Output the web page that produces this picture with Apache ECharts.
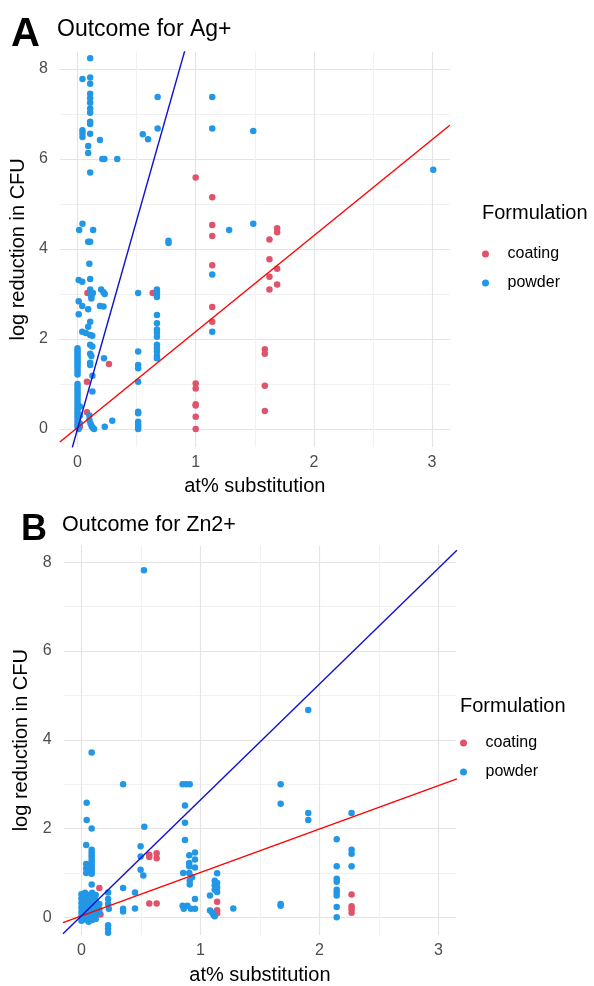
<!DOCTYPE html>
<html>
<head>
<meta charset="utf-8">
<script src="https://cdn.jsdelivr.net/npm/echarts@6/dist/echarts.min.js"></script>
<style>
  html, body { margin: 0; padding: 0; background: #fff; }
  #chart { width: 594px; height: 986px; }
</style>
</head>
<body>
<div id="chart"></div>
<script>
// panel A: Ag+
var agCoating = [
  [1.0, 5.59], [1.14, 5.15], [1.14, 4.53], [1.14, 4.29], [1.14, 3.64], [1.14, 2.71], [1.14, 2.38],
  [1.624, 4.21], [1.689, 4.46], [1.689, 4.37], [1.624, 3.77], [1.689, 3.56], [1.624, 3.38], [1.689, 3.21], [1.624, 3.10],
  [1.585, 1.77], [1.585, 1.67], [1.585, 0.96], [1.585, 0.40],
  [1.0, 1.01], [1.0, 0.90], [1.0, 0.55], [1.0, 0.52], [1.0, 0.27], [1.0, 0.0],
  [0.084, 3.02], [0.266, 1.44], [0.08, 1.05], [0.08, 0.37], [0.636, 3.02], [0.02, 0.05]
];
var agPowder = [
  [0.107, 8.24], [0.042, 7.78], [0.107, 7.81], [0.107, 7.67], [0.107, 7.45], [0.107, 7.35], [0.107, 7.25],
  [0.107, 7.12], [0.107, 7.03], [0.107, 6.83], [0.107, 6.78], [0.042, 6.64], [0.042, 6.57], [0.042, 6.49],
  [0.107, 6.56], [0.19, 6.42], [0.09, 6.29], [0.09, 6.13], [0.21, 6.0], [0.227, 6.0], [0.336, 6.0], [0.107, 5.7],
  [0.678, 7.38], [0.678, 6.68], [0.552, 6.55], [0.597, 6.44], [1.14, 7.38], [1.14, 6.68], [1.487, 6.62],
  [1.283, 4.42], [1.487, 4.56], [0.042, 4.56], [0.014, 4.42], [0.132, 4.42], [0.09, 4.16], [0.107, 4.16],
  [0.77, 4.18], [0.77, 4.13], [1.14, 3.43], [1.14, 2.16], [3.01, 5.76],
  [0.10, 3.67], [0.01, 3.31], [0.04, 3.27], [0.107, 3.33], [0.107, 3.1], [0.107, 3.03], [0.117, 2.95],
  [0.117, 2.9], [0.13, 3.02], [0.20, 3.1], [0.22, 3.04], [0.23, 3.0], [0.01, 2.84], [0.04, 2.73], [0.09, 2.66],
  [0.19, 2.73], [0.22, 2.72], [0.01, 2.55], [0.107, 2.38], [0.09, 2.27], [0.04, 2.16], [0.07, 2.13],
  [0.107, 2.09], [0.125, 2.07], [0.107, 1.87], [0.125, 1.83],
  [0, 1.79], [0, 1.74], [0, 1.69], [0, 1.64], [0, 1.59], [0, 1.54], [0, 1.49], [0, 1.44], [0, 1.39],
  [0, 1.33], [0, 1.27], [0, 1.21],
  [0.107, 1.67], [0.117, 1.62], [0.107, 1.47], [0.107, 1.42], [0.224, 1.57], [0.126, 1.18], [0.126, 0.83],
  [0, 1.0], [0, 0.94], [0, 0.88], [0, 0.82], [0, 0.76], [0, 0.70], [0, 0.64], [0, 0.58], [0, 0.52],
  [0, 0.46], [0, 0.40], [0, 0.34], [0, 0.28], [0, 0.22], [0, 0.16], [0, 0.10], [0, 0.04], [0.01, 0.0],
  [0.02, 0.5], [0.02, 0.3], [0.02, 0.12],
  [0.1, 0.3], [0.1, 0.2], [0.11, 0.12], [0.12, 0.06], [0.13, 0.02], [0.14, 0.0],
  [0.294, 0.18], [0.23, 0.05],
  [0.513, 3.02], [0.513, 1.72], [0.513, 1.42], [0.513, 1.35], [0.513, 1.05], [0.513, 0.38], [0.513, 0.35],
  [0.513, 0.16], [0.513, 0.09], [0.513, 0.05], [0.513, 0.0],
  [0.672, 3.1], [0.672, 3.05], [0.672, 3.0], [0.672, 2.93], [0.672, 2.53], [0.672, 2.35], [0.672, 2.21],
  [0.672, 2.14], [0.672, 2.05], [0.672, 1.87], [0.672, 1.8], [0.672, 1.72], [0.672, 1.62], [0.672, 1.57]
];
// fitted lines, end points
var agFitCoating = [[-0.15, -0.29], [3.15, 6.75]];
var agFitPowder = [[-0.045, -0.42], [0.95, 8.8]];

// panel B: Zn2+
var znCoating = [
  [0.57, 1.41], [0.57, 1.36], [0.632, 1.44], [0.632, 1.33], [0.57, 0.31], [0.632, 0.31],
  [0.15, 0.66], [0.16, 0.06], [1.14, 0.35], [1.14, 0.16], [1.14, 0.09],
  [2.27, 0.51], [2.27, 0.25], [2.27, 0.18], [2.27, 0.1]
];
var znPowder = [
  [0.525, 7.82], [1.906, 4.67], [0.086, 3.71], [0.35, 3.0], [0.85, 3.0], [0.88, 3.0], [0.91, 3.0],
  [1.674, 3.0], [1.674, 2.56], [0.044, 2.58], [0.044, 2.19], [0.086, 2.0], [0.528, 2.04],
  [0.87, 2.52], [0.87, 2.13], [0.87, 1.74], [0.04, 1.63],
  [0.086, 1.52], [0.086, 1.46], [0.086, 1.4], [0.086, 1.34], [0.086, 1.28], [0.086, 1.22], [0.086, 1.16],
  [0.086, 1.1], [0.086, 1.04], [0.086, 0.98], [0.04, 1.2], [0.04, 1.1], [0.04, 1.0],
  [0.497, 1.6], [0.497, 1.37], [0.497, 1.07], [0.52, 0.94],
  [0.906, 1.4], [0.954, 1.46], [0.906, 1.22], [0.906, 1.15], [0.954, 1.3], [0.954, 1.12], [0.855, 1.0],
  [0.906, 1.0], [0.93, 0.9], [0.91, 0.82], [0.91, 0.74], [0.954, 0.41], [0.85, 0.26], [0.86, 0.19],
  [0.89, 0.26], [0.92, 0.19], [0.954, 0.19],
  [1.14, 0.99], [1.12, 0.82], [1.14, 0.77], [1.12, 0.72], [1.14, 0.67], [1.12, 0.62], [1.14, 0.57],
  [1.08, 0.49], [1.08, 0.15], [1.1, 0.1], [1.11, 0.05], [1.12, 0.02], [1.276, 0.2], [1.674, 0.3], [1.674, 0.26],
  [1.906, 2.35], [1.906, 2.19], [2.27, 2.35], [2.145, 1.76], [2.27, 1.52], [2.27, 1.43], [2.27, 1.15],
  [2.145, 1.15], [2.145, 0.87], [2.145, 0.8], [2.145, 0.62], [2.145, 0.56], [2.145, 0.49], [2.145, 0.23], [2.145, 0.0],
  [0.224, 0.56], [0.224, 0.41], [0.224, 0.3], [0.23, 0.19], [0.224, -0.18], [0.224, -0.26], [0.224, -0.35],
  [0.35, 0.66], [0.35, 0.19], [0.35, 0.13], [0.45, 0.56], [0.45, 0.2], [0.086, 0.74],
  [0.0, 0.52], [0.0, 0.42], [0.0, 0.32], [0.0, 0.22], [0.0, 0.12], [0.0, 0.02], [0.0, -0.08],
  [0.03, 0.55], [0.03, 0.45], [0.03, 0.35], [0.03, 0.25], [0.03, 0.15], [0.03, 0.05], [0.03, -0.05],
  [0.06, 0.5], [0.06, 0.4], [0.06, 0.3], [0.06, 0.2], [0.06, 0.1], [0.06, 0.0], [0.06, -0.1],
  [0.09, 0.55], [0.09, 0.45], [0.09, 0.35], [0.09, 0.25], [0.09, 0.15], [0.09, 0.05], [0.09, -0.06],
  [0.12, 0.5], [0.12, 0.38], [0.12, 0.27], [0.12, 0.16], [0.12, 0.06], [0.12, -0.04],
  [0.15, 0.3], [0.15, 0.18], [0.15, 0.1]
];
var znFitCoating = [[-0.155, -0.12], [3.155, 3.12]];
var znFitPowder = [[-0.155, -0.37], [3.155, 8.27]];

var colCoating = '#DF536B';
var colPowder = '#2297E6';
var font = "'Liberation Sans', Arial, sans-serif";

var chart = echarts.init(document.getElementById('chart'));

function xAxisFor(gridIndex) {
  return {
    type: 'value', gridIndex: gridIndex, min: -0.15, max: 3.15,
    minInterval: 0.5, maxInterval: 0.5,
    name: 'at% substitution', nameLocation: 'middle', nameGap: 30,
    nameTextStyle: { color: '#000', fontSize: 20, fontFamily: font },
    axisLine: { show: false }, axisTick: { show: false },
    axisLabel: {
      color: '#4d4d4d', fontSize: 16, fontFamily: font, margin: 8,
      showMinLabel: false, showMaxLabel: false,
      formatter: function (v) { return Math.abs(v - Math.round(v)) < 1e-6 ? String(Math.round(v)) : ''; }
    },
    splitLine: {
      show: true, showMinLine: false, showMaxLine: false,
      lineStyle: { color: ['#e4e4e4', '#f1f1f1'], width: 1.2 }
    }
  };
}
function yAxisFor(gridIndex) {
  return {
    type: 'value', gridIndex: gridIndex, min: -0.4, max: 8.38,
    minInterval: 1, maxInterval: 1,
    name: 'log reduction in CFU', nameLocation: 'middle', nameGap: 18,
    nameTextStyle: { color: '#000', fontSize: 20, fontFamily: font },
    axisLine: { show: false }, axisTick: { show: false },
    axisLabel: {
      color: '#4d4d4d', fontSize: 16, fontFamily: font, margin: 12,
      showMinLabel: false, showMaxLabel: false,
      formatter: function (v) {
        var r = Math.round(v);
        return (Math.abs(v - r) < 1e-6 && r % 2 === 0) ? String(r) : '';
      }
    },
    splitLine: {
      show: true, showMinLine: false, showMaxLine: false,
      lineStyle: { color: ['#e4e4e4', '#f1f1f1'], width: 1.2 }
    }
  };
}
function points(name, data, color, idx) {
  return {
    name: name, type: 'scatter', xAxisIndex: idx, yAxisIndex: idx,
    data: data, symbol: 'circle', symbolSize: 6.5,
    itemStyle: { color: color, opacity: 1 }
  };
}
function fit(data, color, idx) {
  return {
    type: 'line', xAxisIndex: idx, yAxisIndex: idx, data: data,
    showSymbol: false, silent: true, clip: true, z: 3,
    lineStyle: { color: color, width: 1.4 }
  };
}
function legendFor(left, top) {
  return {
    data: ['coating', 'powder'], orient: 'vertical', left: left, top: top,
    icon: 'circle', itemWidth: 30, itemHeight: 7, itemGap: 13,
    textStyle: { fontSize: 16, fontFamily: font, color: '#000', lineHeight: 16, padding: [0, 0, 0, 2] },
    selectedMode: false
  };
}
function label(text, x, y, size, bold) {
  return {
    type: 'text', left: x, top: y,
    style: { text: text, fontSize: size, fontWeight: bold ? 'bold' : 'normal', fontFamily: font, fill: '#000' }
  };
}

chart.setOption({
  backgroundColor: '#fff',
  animation: false,
  grid: [
    { left: 57.1, top: 51.9, width: 392.7, height: 395 },
    { left: 63.6, top: 545.4, width: 392.7, height: 394.2 }
  ],
  xAxis: [xAxisFor(0), xAxisFor(1)],
  yAxis: [yAxisFor(0), yAxisFor(1)],
  legend: [legendFor(477, 241), legendFor(455, 730)],
  graphic: [
    label('A', 11, 15, 40, true),
    label('Outcome for Ag+', 57, 18, 23, false),
    label('Formulation', 482, 203, 20, false),
    label('B', 21, 512, 36, true),
    label('Outcome for Zn2+', 62, 514, 21.5, false),
    label('Formulation', 460, 696, 20, false)
  ],
  series: [
    points('coating', agCoating, colCoating, 0),
    points('powder', agPowder, colPowder, 0),
    fit(agFitCoating, '#ff0000', 0),
    fit(agFitPowder, '#1010cc', 0),
    points('coating', znCoating, colCoating, 1),
    points('powder', znPowder, colPowder, 1),
    fit(znFitCoating, '#ff0000', 1),
    fit(znFitPowder, '#1010cc', 1)
  ]
});
</script>
</body>
</html>
